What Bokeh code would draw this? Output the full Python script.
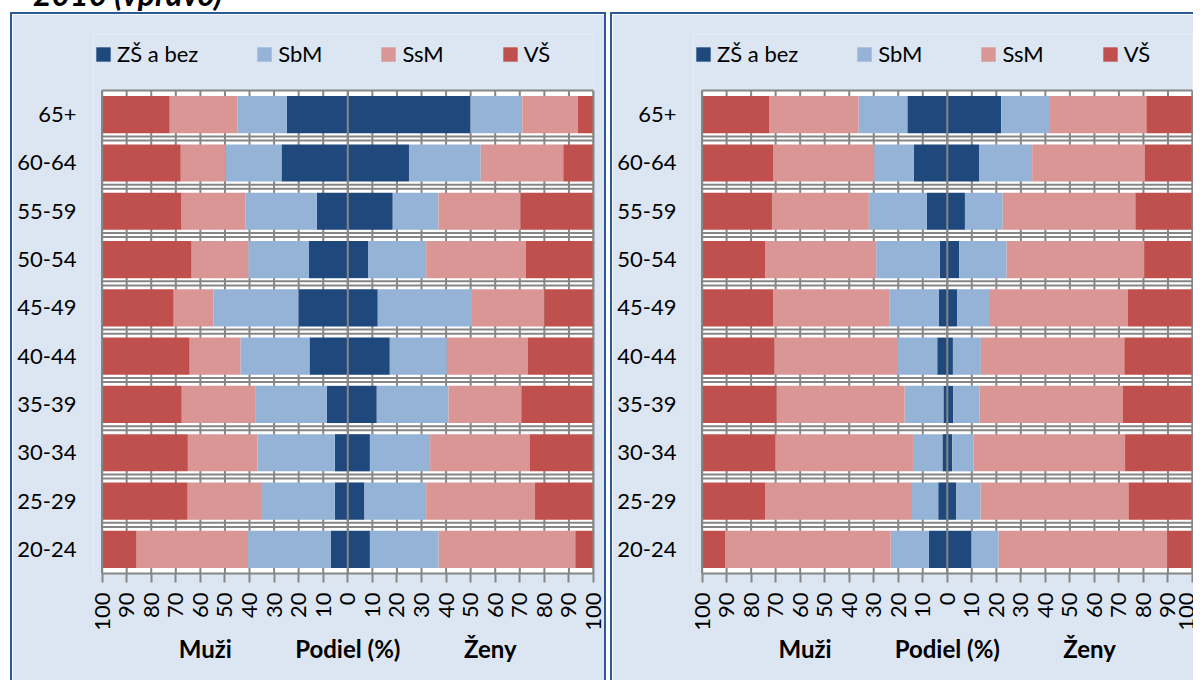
import math
from bokeh.plotting import figure
from bokeh.models import Range1d, FixedTicker, Legend, LegendItem, Div, LinearAxis
from bokeh.layouts import row, column
from bokeh.embed import file_html
from bokeh.resources import INLINE

# ---------------- data ----------------
categories = ["65+", "60-64", "55-59", "50-54", "45-49", "40-44", "35-39", "30-34", "25-29", "20-24"]
levels = ["ZŠ a bez", "SbM", "SsM", "VŠ"]
colors = ["#1F497D", "#95B3D7", "#DA9694", "#C0504D"]
tick_values = list(range(-100, 101, 10))

# left panel
l_men_zs = [24.9, 27.0, 12.6, 15.8, 20.1, 15.6, 8.6, 5.3, 5.3, 6.9]
l_men_sbm = [20.0, 22.8, 29.1, 24.7, 34.6, 28.1, 29.1, 31.5, 29.6, 33.7]
l_men_ssm = [27.6, 18.2, 26.0, 23.1, 16.2, 20.7, 29.9, 28.3, 30.3, 45.4]
l_men_vs = [27.5, 32.0, 32.3, 36.4, 29.1, 35.6, 32.4, 34.9, 34.8, 14.0]
l_wom_zs = [49.9, 24.9, 18.3, 8.4, 12.2, 17.1, 11.8, 9.0, 6.8, 9.0]
l_wom_sbm = [21.1, 29.2, 18.6, 23.5, 38.3, 23.2, 29.2, 24.5, 25.1, 28.0]
l_wom_ssm = [22.6, 33.6, 33.4, 40.6, 29.5, 32.9, 29.6, 40.5, 44.3, 55.6]
l_wom_vs = [6.4, 12.3, 29.7, 27.5, 20.0, 26.8, 29.4, 26.0, 23.8, 7.4]

# right panel
r_men_zs = [16.3, 13.6, 8.3, 3.1, 3.4, 4.1, 1.6, 2.0, 3.7, 7.5]
r_men_sbm = [19.9, 16.2, 23.7, 25.9, 20.3, 16.1, 15.8, 12.0, 10.7, 15.6]
r_men_ssm = [36.5, 41.1, 39.5, 45.3, 47.3, 50.3, 52.2, 56.2, 59.9, 67.5]
r_men_vs = [27.3, 29.1, 28.5, 25.7, 29.0, 29.5, 30.4, 29.8, 25.7, 9.4]
r_wom_zs = [22.0, 13.1, 7.2, 4.9, 4.1, 2.3, 2.4, 2.0, 3.7, 9.8]
r_wom_sbm = [19.5, 21.5, 15.4, 19.3, 12.9, 11.4, 10.7, 8.6, 9.9, 11.2]
r_wom_ssm = [39.7, 46.0, 54.1, 56.1, 56.7, 58.5, 58.4, 61.9, 60.3, 68.7]
r_wom_vs = [18.8, 19.4, 23.3, 19.7, 26.3, 27.8, 28.5, 27.5, 26.1, 10.3]

title_text = "2010 (vpravo)"
bottom_labels = ["Muži", "Podiel (%)", "Ženy"]
bottom_label_pos = [-58, 0, 58]

FONT = "Lato"
GRID = "#868686"
PANEL_BG = "#DCE6F2"
BORDER = "#2C5A94"
X_START = -103.5      # a little room left of the plot area for the legend
Y_EXTRA = 1.16        # room above the bars (in category units) for the legend


def make_panel(men, women, width, border_right, margin_left):
    n = len(categories)
    y = [n - 1 - i + 0.5 for i in range(n)]
    p = figure(width=width, height=668, title=None,
               x_range=Range1d(X_START, 100), y_range=Range1d(0, n + Y_EXTRA),
               output_backend="svg", toolbar_location=None,
               min_border_left=81, min_border_right=15 if border_right else 3,
               min_border_top=20, min_border_bottom=109)
    p.background_fill_color = PANEL_BG
    p.border_fill_color = PANEL_BG
    p.outline_line_color = None
    p.xgrid.visible = False
    p.ygrid.visible = False

    # white plot area
    p.quad(left=[-100], right=[100], bottom=[0], top=[n], fill_color="white",
           line_color=None, level="image")

    # grid lines (drawn under the bars)
    gx0 = list(tick_values)
    gy0 = [0] * len(tick_values)
    gy1 = [n] * len(tick_values)
    p.segment(x0=gx0, y0=gy0, x1=gx0, y1=gy1, line_color=GRID, line_width=2, level="underlay")
    hb = []
    for k in range(1, n):
        hb += [k - 0.035, k + 0.05]
    hb.append(n)
    p.segment(x0=[-100] * len(hb), y0=hb, x1=[100] * len(hb), y1=hb,
              line_color=GRID, line_width=2, level="underlay")

    # bars
    items = []
    cum_m = [0.0] * n
    cum_w = [0.0] * n
    for lvl, col, mv, wv in zip(levels, colors, men, women):
        right_m = [-c for c in cum_m]
        left_m = [-(c + v) for c, v in zip(cum_m, mv)]
        p.hbar(y=y, left=left_m, right=right_m, height=0.77,
               fill_color=col, line_color=None)
        left_w = list(cum_w)
        right_w = [c + v for c, v in zip(cum_w, wv)]
        rw = p.hbar(y=y, left=left_w, right=right_w, height=0.77,
                    fill_color=col, line_color=None)
        items.append(LegendItem(label=lvl, renderers=[rw]))
        cum_m = [c + v for c, v in zip(cum_m, mv)]
        cum_w = [c + v for c, v in zip(cum_w, wv)]

    # centre line and plot-area edges on top of the bars
    ex = [-100, 0, 100]
    p.segment(x0=ex, y0=[0] * 3, x1=ex, y1=[n] * 3, line_color=GRID, line_width=2, level="guide")

    # x axis
    xa = p.xaxis[0]
    xa.bounds = (-100, 100)
    xa.ticker = FixedTicker(ticks=tick_values)
    xa.major_label_overrides = {t: str(abs(t)) for t in tick_values}
    xa.major_label_orientation = math.pi / 2
    xa.major_label_text_font = FONT
    xa.major_label_text_font_size = "22px"
    xa.major_label_text_color = "black"
    xa.major_label_standoff = 10
    xa.axis_line_color = GRID
    xa.axis_line_width = 2
    xa.major_tick_line_color = GRID
    xa.major_tick_line_width = 2
    xa.major_tick_in = 0
    xa.major_tick_out = 9
    xa.minor_tick_line_color = None

    # second axis carrying "Muži  Podiel (%)  Ženy"
    xb = LinearAxis(ticker=FixedTicker(ticks=bottom_label_pos), bounds=(-100, 100),
                    major_label_overrides={v: t for v, t in zip(bottom_label_pos, bottom_labels)},
                    axis_line_color=None, major_tick_line_color=None,
                    minor_tick_line_color=None, major_tick_in=0, major_tick_out=0,
                    major_label_standoff=0, major_label_text_font=FONT,
                    major_label_text_font_style="bold", major_label_text_font_size="24px",
                    major_label_text_color="black")
    p.add_layout(xb, "below")

    # y axis
    ya = p.yaxis[0]
    ya.ticker = FixedTicker(ticks=y)
    ya.major_label_overrides = {yy: c for yy, c in zip(y, categories)}
    ya.major_label_text_font = FONT
    ya.major_label_text_font_size = "22px"
    ya.major_label_text_color = "black"
    ya.major_label_standoff = 17
    ya.major_tick_out = 0
    ya.major_tick_in = 0
    ya.major_tick_line_color = None
    ya.minor_tick_line_color = None
    ya.axis_line_color = None

    legend = Legend(items=items, orientation="horizontal", location=(1, 506),
                    glyph_width=18, glyph_height=18, label_height=14,
                    label_standoff=5, spacing=57, padding=0, margin=0,
                    border_line_color=None, background_fill_alpha=0,
                    label_text_font=FONT, label_text_font_size="22px",
                    label_text_color="black")
    p.add_layout(legend, "center")

    css = {"border-left": f"2px solid {BORDER}", "border-top": f"2px solid {BORDER}"}
    if border_right:
        css["border-right"] = f"2px solid {BORDER}"
    p.styles = css
    p.margin = (12, 0, 0, margin_left)
    return p


p1 = make_panel([l_men_zs, l_men_sbm, l_men_ssm, l_men_vs],
                [l_wom_zs, l_wom_sbm, l_wom_ssm, l_wom_vs], 596, True, 10)
p2 = make_panel([r_men_zs, r_men_sbm, r_men_ssm, r_men_vs],
                [r_wom_zs, r_wom_sbm, r_wom_ssm, r_wom_vs], 583, False, 4)

title = Div(text=title_text, styles={"position": "absolute", "left": "28px", "top": "-34px",
                                      "font-family": FONT, "font-weight": "bold",
                                      "font-style": "italic", "font-size": "32px",
                                      "white-space": "nowrap", "color": "black"})

layout = column(row(p1, p2, spacing=0), title, spacing=0)

with open("out.html", "w") as f:
    f.write(file_html(layout, INLINE))
